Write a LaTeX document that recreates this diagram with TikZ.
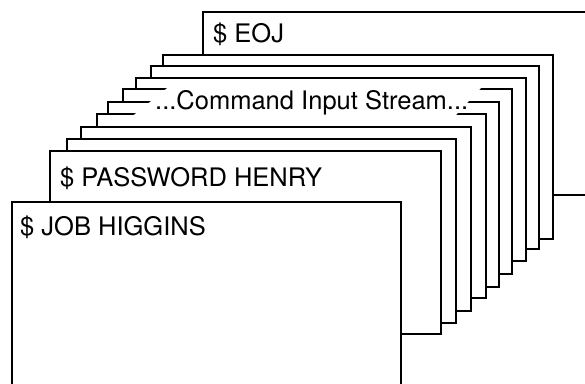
\documentclass[tikz,border=0pt]{standalone}
\usepackage{fontspec}
\setmainfont{TeX Gyre Heros}
\begin{document}
\begin{tikzpicture}[x=1pt,y=-1pt,
  card/.style={draw=black,fill=white,line width=2.3pt,line join=miter},
  label/.style={anchor=base west,inner sep=0pt,font=\fontsize{25.5}{30}\selectfont}]
\useasboundingbox (0,0) rectangle (585,383);
\clip (0,0) rectangle (585,383);
% back to front
\draw[card] (203,12) rectangle (610,195);   % $ EOJ
\draw[card] (163,55) rectangle (553,239);
\draw[card] (151,66) rectangle (539,249);
\draw[card] (136,78) rectangle (526,261);
\draw[card] (123,89) rectangle (512,274);
\draw[card] (108,102) rectangle (499,287);
\draw[card] (97,114) rectangle (486,298);
\draw[card] (81,127) rectangle (471,311);
\draw[card] (67,139) rectangle (456,323);
\draw[card] (50,151) rectangle (441,334);   % $ PASSWORD HENRY
\draw[card] (12,202) rectangle (401,400);   % $ JOB HIGGINS
% white band behind the stream label
\fill[white] (169.7,86) -- (482.8,86) -- (454.2,117) -- (131.3,117) -- cycle;
\node[label] (eoj) at (213,42) {\$ EOJ};
\node[label] (stream) at (155,109) {...Command Input Stream...};
\node[label] (pwd) at (60,186) {\$ PASSWORD HENRY};
\node[label] (job) at (20,235) {\$ JOB HIGGINS};
\end{tikzpicture}
\end{document}
